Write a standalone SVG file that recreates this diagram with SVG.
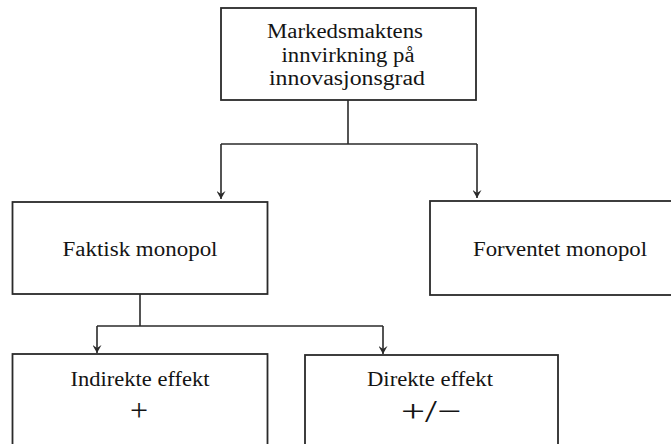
<svg xmlns="http://www.w3.org/2000/svg" width="671" height="444" viewBox="0 0 671 444">
<style>
.box{fill:#fff;stroke:#2a2a2a;stroke-width:1.8}
.ln{fill:none;stroke:#2a2a2a;stroke-width:1.6}
.t{font-family:"Liberation Serif","Times New Roman",serif;font-size:20px;fill:#141414;text-anchor:middle}
.s{font-family:"Liberation Serif","Times New Roman",serif;font-size:32px;fill:#141414;text-anchor:middle}
</style>
<defs>
<marker id="ah" markerWidth="8" markerHeight="9" refX="8" refY="4.5" orient="auto" markerUnits="userSpaceOnUse" viewBox="0 0 8 9">
<path d="M0,0 L8,4.5 L0,9 L3,4.5 z" fill="#2a2a2a"/>
</marker>
</defs>
<rect width="671" height="444" fill="#fff"/>
<g id="connectors">
<path class="ln" d="M348,100 V144"/>
<path class="ln" d="M221,144 H477" />
<path class="ln" d="M221,144 V199" marker-end="url(#ah)"/>
<path class="ln" d="M477,144 V198" marker-end="url(#ah)"/>
<path class="ln" d="M140,294 V326"/>
<path class="ln" d="M97,326 H383"/>
<path class="ln" d="M97,326 V353" marker-end="url(#ah)"/>
<path class="ln" d="M383,326 V354" marker-end="url(#ah)"/>
</g>
<g id="node-root">
<rect class="box" x="221" y="8" width="255" height="92"/>
<text class="t" x="345" y="38" textLength="156" lengthAdjust="spacingAndGlyphs">Markedsmaktens</text>
<text class="t" x="348" y="62" textLength="133" lengthAdjust="spacingAndGlyphs">innvirkning på</text>
<text class="t" x="347" y="85" textLength="156" lengthAdjust="spacingAndGlyphs">innovasjonsgrad</text>
</g>
<g id="node-faktisk">
<rect class="box" x="12.5" y="202" width="255" height="92"/>
<text class="t" x="140" y="256" textLength="155" lengthAdjust="spacingAndGlyphs">Faktisk monopol</text>
</g>
<g id="node-forventet">
<rect class="box" x="430" y="201" width="260" height="94"/>
<text class="t" x="560" y="256" textLength="174" lengthAdjust="spacingAndGlyphs">Forventet monopol</text>
</g>
<g id="node-indirekte">
<rect class="box" x="12.5" y="354" width="255" height="110"/>
<text class="t" x="140" y="386" textLength="139" lengthAdjust="spacingAndGlyphs">Indirekte effekt</text>
<text class="s" x="139" y="421">+</text>
</g>
<g id="node-direkte">
<rect class="box" x="305" y="355" width="253" height="110"/>
<text class="t" x="430" y="386" textLength="126" lengthAdjust="spacingAndGlyphs">Direkte effekt</text>
<text class="s" x="431" y="422" textLength="60" lengthAdjust="spacingAndGlyphs">+/−</text>
</g>
</svg>
